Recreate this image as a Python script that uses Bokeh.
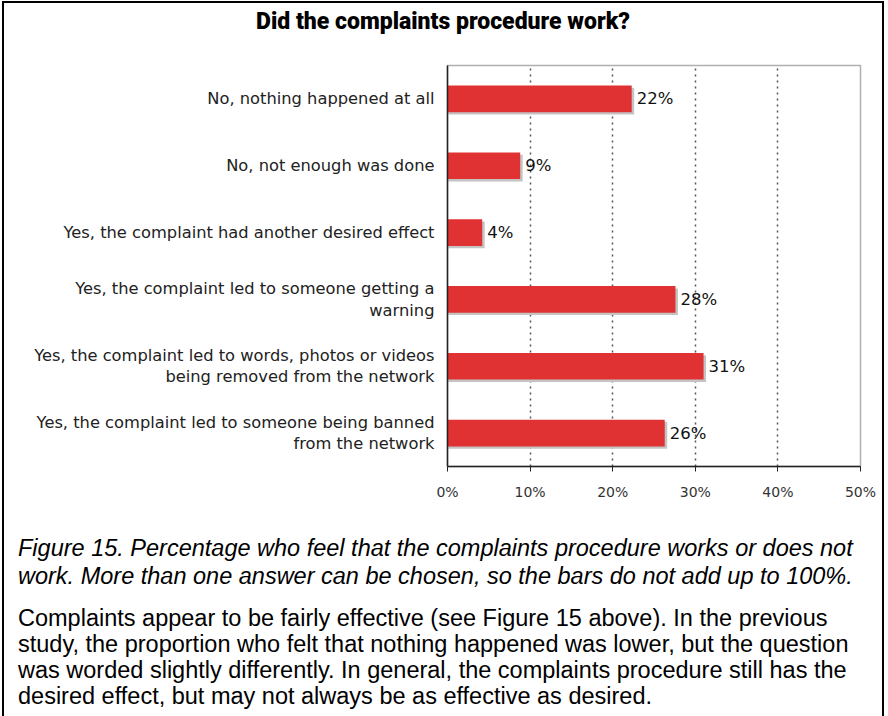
from bokeh.plotting import figure
from bokeh.layouts import column
from bokeh.models import FactorRange, Range1d, FixedTicker, ColumnDataSource, Div
from bokeh.transform import dodge
from bokeh.core.properties import value
from bokeh.embed import file_html
from bokeh.resources import INLINE

# ---------------- data ----------------
categories = [
    "No, nothing happened at all",
    "No, not enough was done",
    "Yes, the complaint had another desired effect",
    "Yes, the complaint led to someone getting a\nwarning",
    "Yes, the complaint led to words, photos or videos\nbeing removed from the network",
    "Yes, the complaint led to someone being banned\nfrom the network",
]
percentages = [22.3, 8.8, 4.2, 27.6, 31.0, 26.3]
value_labels = ["22%", "9%", "4%", "28%", "31%", "26%"]
x_ticks = [0, 10, 20, 30, 40, 50]
x_tick_labels = ["0%", "10%", "20%", "30%", "40%", "50%"]

title_text = "Did the complaints procedure work?"
caption_lines = [
    "Figure 15. Percentage who feel that the complaints procedure works or does not",
    "work. More than one answer can be chosen, so the bars do not add up to 100%.",
]
paragraph_lines = [
    "Complaints appear to be fairly effective (see Figure 15 above). In the previous",
    "study, the proportion who felt that nothing happened was lower, but the question",
    "was worded slightly differently. In general, the complaints procedure still has the",
    "desired effect, but may not always be as effective as desired.",
]

# ---------------- geometry (page pixels) ----------------
PAGE_H = 716
OX, OY = 4, 3            # content origin inside the bordered box
CW = 878                 # content width
TITLE_BOTTOM = 43
MAIN_BOTTOM = 510
FL, FR, FT, FB = 447, 860, 65, 466   # frame edges on the page

# ---- title strip ----
t_h = TITLE_BOTTOM - OY
title_div = Div(
    text=('<div style="width:%dpx;height:%dpx;margin:0;padding-top:6px;box-sizing:border-box;'
          'text-align:center;font-family:Roboto;font-weight:900;font-size:23px;'
          'line-height:26px;color:#000;white-space:nowrap;">%s</div>') % (CW, t_h, title_text),
    width=CW, height=t_h, styles={"margin": "0", "padding": "0"},
)

# ---- main chart ----
m_h = MAIN_BOTTOM - TITLE_BOTTOM
p = figure(
    width=CW, height=m_h,
    y_range=FactorRange(*reversed(categories)),
    x_range=Range1d(0, 50),
    output_backend="svg", toolbar_location=None,
    min_border_left=FL - OX, min_border_right=CW - (FR - OX),
    min_border_top=FT - TITLE_BOTTOM, min_border_bottom=MAIN_BOTTOM - FB,
)
p.background_fill_color = "white"
p.border_fill_color = "white"
p.outline_line_color = "#b0b0b0"
p.outline_line_width = 1.5

src = ColumnDataSource(dict(cat=categories, pct=percentages, lab=value_labels))

p.hbar(y=dodge("cat", -0.035, range=p.y_range), left=0, right=dodge("pct", 0.3),
       height=0.4, source=src, fill_color="#c4c4c4", line_color=None)
p.hbar(y="cat", left=0, right="pct", height=0.4, source=src,
       fill_color="#E03232", line_color=None)
p.text(x="pct", y="cat", text="lab", source=src, x_offset=5,
       text_baseline="middle", text_align="left", text_font_size="16.5px",
       text_color="#111111", text_font=value("DejaVu Sans"))

xa = p.xaxis[0]
xa.ticker = FixedTicker(ticks=x_ticks)
xa.major_label_overrides = {t: l for t, l in zip(x_ticks, x_tick_labels)}
xa.minor_tick_line_color = None
xa.major_tick_in = 0
xa.major_tick_out = 5
xa.major_label_standoff = 12
xa.major_label_text_font_size = "14px"
xa.major_label_text_font = "DejaVu Sans"
xa.major_label_text_color = "#333333"
xa.axis_line_color = "#222222"
xa.axis_line_width = 1.5
xa.major_tick_line_color = "#222222"

ya = p.yaxis[0]
ya.major_tick_line_color = None
ya.major_tick_in = 0
ya.major_tick_out = 0
ya.minor_tick_line_color = None
ya.axis_line_color = "#222222"
ya.axis_line_width = 1.5
ya.major_label_standoff = 13
ya.major_label_text_font_size = "16.3px"
ya.major_label_text_font = "DejaVu Sans"
ya.major_label_text_color = "#222222"
ya.major_label_text_line_height = 1.12

p.ygrid.grid_line_color = None
p.xgrid.ticker = FixedTicker(ticks=x_ticks[1:])
p.xgrid.grid_line_color = "#555555"
p.xgrid.grid_line_dash = "2 4"
p.xgrid.grid_line_width = 1.5

# ---- caption + paragraph ----
b_h = PAGE_H - MAIN_BOTTOM
cap_html = "<br>".join(caption_lines)
par_html = "<br>".join(paragraph_lines)
bottom_div = Div(
    text=('<div style="width:%dpx;height:%dpx;margin:0;padding:24px 0 0 %dpx;box-sizing:border-box;'
          'font-family:\'Liberation Sans\';color:#000;white-space:nowrap;">'
          '<div style="font-style:italic;font-size:23.5px;line-height:28px;margin:0;">%s</div>'
          '<div style="font-size:23.5px;line-height:26px;margin:15px 0 0 0;">%s</div>'
          '</div>') % (CW, b_h, 18 - OX, cap_html, par_html),
    width=CW, height=b_h, styles={"margin": "0", "padding": "0"},
)

page = column(title_div, p, bottom_div, spacing=0,
              styles={"margin-left": "2px", "margin-top": "1px",
                      "border-left": "2px solid black", "border-right": "2px solid black",
                      "border-top": "2px solid black"})

open("out.html", "w").write(file_html(page, INLINE))
